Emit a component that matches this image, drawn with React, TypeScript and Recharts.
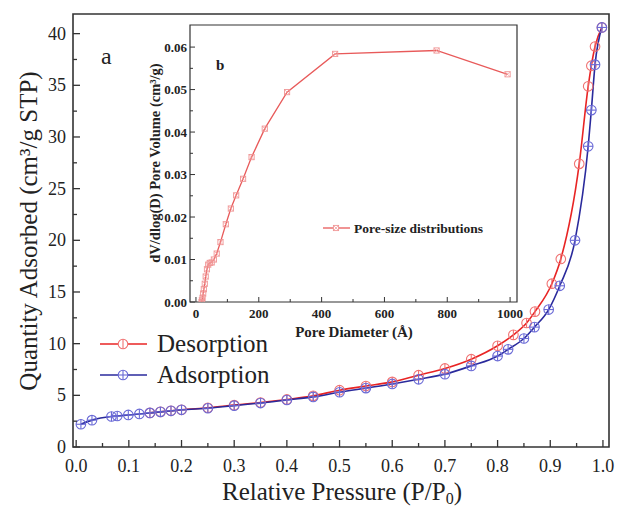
import React from 'react';
import { LineChart, Line, XAxis, YAxis, ReferenceArea } from 'recharts';

// Adsorption branch (blue)
const adsP = [0.009, 0.030, 0.067, 0.078, 0.099, 0.120, 0.140, 0.160, 0.180, 0.200, 0.250, 0.300, 0.350, 0.400, 0.450, 0.500, 0.550, 0.600, 0.650, 0.700, 0.750, 0.800, 0.820, 0.850, 0.870, 0.897, 0.918, 0.947, 0.972, 0.978, 0.985, 0.998];
const adsQ = [2.2, 2.6, 2.95, 3.0, 3.1, 3.2, 3.3, 3.4, 3.5, 3.6, 3.75, 4.0, 4.25, 4.55, 4.85, 5.3, 5.7, 6.1, 6.55, 7.05, 7.85, 8.8, 9.45, 10.5, 11.6, 13.3, 15.6, 20.0, 29.1, 32.6, 37.0, 40.6];
// Desorption branch (red)
const desP = [0.140, 0.160, 0.180, 0.200, 0.250, 0.300, 0.350, 0.400, 0.450, 0.500, 0.550, 0.600, 0.650, 0.700, 0.750, 0.800, 0.830, 0.855, 0.871, 0.903, 0.920, 0.955, 0.972, 0.978, 0.985, 0.998];
const desQ = [3.3, 3.4, 3.5, 3.6, 3.8, 4.05, 4.3, 4.6, 4.95, 5.5, 5.9, 6.3, 6.95, 7.6, 8.5, 9.8, 10.85, 12.0, 13.1, 15.8, 18.2, 27.4, 34.9, 36.9, 38.75, 40.6];
// Inset: pore-size distribution
const poreD = [18, 19, 21, 23, 25, 28, 31, 35, 39, 44, 50, 57, 66, 78, 95, 111, 128, 150, 177, 219, 290, 443, 766, 992];
const poreV = [0.0, 0.0004, 0.001, 0.002, 0.003, 0.0043, 0.006, 0.0077, 0.0088, 0.0092, 0.0093, 0.01, 0.0114, 0.0141, 0.0183, 0.022, 0.0251, 0.029, 0.0341, 0.0408, 0.0494, 0.0584, 0.0592, 0.0536];

const mainXTicks = [0, 0.05, 0.1, 0.15, 0.2, 0.25, 0.3, 0.35, 0.4, 0.45, 0.5, 0.55, 0.6, 0.65, 0.7, 0.75, 0.8, 0.85, 0.9, 0.95, 1.0];
const mainYTicks = [0, 2.5, 5, 7.5, 10, 12.5, 15, 17.5, 20, 22.5, 25, 27.5, 30, 32.5, 35, 37.5, 40];
const insetXTicks = [0, 100, 200, 300, 400, 500, 600, 700, 800, 900, 1000];
const insetYTicks = [0, 0.005, 0.01, 0.015, 0.02, 0.025, 0.03, 0.035, 0.04, 0.045, 0.05, 0.055, 0.06];

const adsData = adsP.map((p, i) => ({ p, q: adsQ[i] }));
const desData = desP.map((p, i) => ({ p, q: desQ[i] }));
const poreData = poreD.map((d, i) => ({ d, v: poreV[i] }));

const mainXDomain = [-0.006, 1.0115];
const mainYDomain = [0, 41.9];
const insetXDomain = [-19, 1022];
const insetYDomain = [0, 0.0652];

const SERIF = '"Liberation Serif", "Times New Roman", serif';
const FRAME = '#333';
const RED = '#e82424';
const RED_M = '#f07272';
const BLUE = '#2a2a9c';
const BLUE_M = '#6a6ad6';
const PINK = '#e85a5a';
const PINK_M = '#f09696';

const MainXTick = (props: any) => {
  const { x, y, payload } = props;
  const major = Math.round(payload.value * 100) % 10 === 0;
  return (
    <g>
      <line x1={x} x2={x} y1={y} y2={y - (major ? 7 : 4)} stroke={FRAME} strokeWidth={1.3} />
      {major && (
        <text x={x} y={y + 25} textAnchor="middle" fontSize={18} fontFamily={SERIF} fill="#222">
          {payload.value.toFixed(1)}
        </text>
      )}
    </g>
  );
};

const MainYTick = (props: any) => {
  const { x, y, payload } = props;
  const major = Math.round(payload.value * 10) % 50 === 0;
  return (
    <g>
      <line x1={x} x2={x + (major ? 7 : 4)} y1={y} y2={y} stroke={FRAME} strokeWidth={1.3} />
      {major && (
        <text x={x - 7} y={y + 6} textAnchor="end" fontSize={18} fontFamily={SERIF} fill="#222">
          {payload.value}
        </text>
      )}
    </g>
  );
};

const InsetXTick = (props: any) => {
  const { x, y, payload } = props;
  const major = payload.value % 200 === 0;
  return (
    <g>
      <line x1={x} x2={x} y1={y} y2={y - (major ? 5 : 3)} stroke={FRAME} strokeWidth={1} />
      {major && (
        <text x={x} y={y + 16} textAnchor="middle" fontSize={13} fontWeight="bold" fontFamily={SERIF} fill="#222">
          {payload.value}
        </text>
      )}
    </g>
  );
};

const InsetYTick = (props: any) => {
  const { x, y, payload } = props;
  const major = Math.round(payload.value * 1000) % 10 === 0;
  return (
    <g>
      <line x1={x} x2={x + (major ? 5 : 3)} y1={y} y2={y} stroke={FRAME} strokeWidth={1} />
      {major && (
        <text x={x - 3} y={y + 4.5} textAnchor="end" fontSize={13} fontWeight="bold" fontFamily={SERIF} fill="#222">
          {payload.value.toFixed(2)}
        </text>
      )}
    </g>
  );
};

const DesDot = (props: any) => {
  const { cx, cy, index } = props;
  if (cx == null || cy == null) return <g key={`d${index}`} />;
  return (
    <g key={`d${index}`}>
      <circle cx={cx} cy={cy} r={4.8} fill="none" stroke={RED_M} strokeWidth={1.1} />
      <line x1={cx} x2={cx} y1={cy - 4.8} y2={cy + 4.8} stroke={RED_M} strokeWidth={1.1} />
    </g>
  );
};

const AdsDot = (props: any) => {
  const { cx, cy, index } = props;
  if (cx == null || cy == null) return <g key={`a${index}`} />;
  return (
    <g key={`a${index}`}>
      <circle cx={cx} cy={cy} r={4.8} fill="none" stroke={BLUE_M} strokeWidth={1.1} />
      <line x1={cx} x2={cx} y1={cy - 4.8} y2={cy + 4.8} stroke={BLUE_M} strokeWidth={1.1} />
      <line x1={cx - 4.8} x2={cx + 4.8} y1={cy} y2={cy} stroke={BLUE_M} strokeWidth={1.1} />
    </g>
  );
};

const PoreDot = (props: any) => {
  const { cx, cy, index } = props;
  if (cx == null || cy == null) return <g key={`p${index}`} />;
  const s = 2.6;
  return (
    <g key={`p${index}`}>
      <rect x={cx - s} y={cy - s} width={2 * s} height={2 * s} fill="none" stroke={PINK_M} strokeWidth={0.9} />
      <line x1={cx - s} x2={cx + s} y1={cy - s} y2={cy + s} stroke={PINK_M} strokeWidth={0.7} />
      <line x1={cx - s} x2={cx + s} y1={cy + s} y2={cy - s} stroke={PINK_M} strokeWidth={0.7} />
    </g>
  );
};

export default function App() {
  return (
    <div style={{ position: 'absolute', left: 0, top: 0, width: 617, height: 510, background: '#fff', overflow: 'hidden' }}>
      <div style={{ position: 'absolute', left: 0, top: 0 }}>
        <LineChart width={617} height={510} margin={{ top: 14, right: 8, bottom: 0, left: 0 }}>
          <XAxis
            dataKey="p"
            type="number"
            domain={mainXDomain}
            allowDataOverflow
            ticks={mainXTicks}
            interval={0}
            tickSize={0}
            tickMargin={0}
            tickLine={false}
            axisLine={false}
            tick={<MainXTick />}
            height={63}
          />
          <YAxis
            dataKey="q"
            type="number"
            domain={mainYDomain}
            allowDataOverflow
            ticks={mainYTicks}
            interval={0}
            tickSize={0}
            tickMargin={0}
            tickLine={false}
            axisLine={false}
            tick={<MainYTick />}
            width={73}
          />
          <ReferenceArea
            x1={mainXDomain[0]}
            x2={mainXDomain[1]}
            y1={mainYDomain[0]}
            y2={mainYDomain[1]}
            fill="none"
            stroke={FRAME}
            strokeWidth={1.6}
          />
          <Line data={desData} dataKey="q" type="monotone" stroke={RED} strokeWidth={1.6} dot={DesDot} isAnimationActive={false} />
          <Line data={adsData} dataKey="q" type="monotone" stroke={BLUE} strokeWidth={1.6} dot={AdsDot} isAnimationActive={false} />
        </LineChart>
      </div>

      <div style={{ position: 'absolute', left: 140, top: 20 }}>
        <LineChart width={390} height={325} margin={{ top: 5, right: 13, bottom: 0, left: 0 }}>
          <XAxis
            dataKey="d"
            type="number"
            domain={insetXDomain}
            allowDataOverflow
            ticks={insetXTicks}
            interval={0}
            tickSize={0}
            tickMargin={0}
            tickLine={false}
            axisLine={false}
            tick={<InsetXTick />}
            height={43}
          />
          <YAxis
            dataKey="v"
            type="number"
            domain={insetYDomain}
            allowDataOverflow
            ticks={insetYTicks}
            interval={0}
            tickSize={0}
            tickMargin={0}
            tickLine={false}
            axisLine={false}
            tick={<InsetYTick />}
            width={50}
          />
          <ReferenceArea
            x1={insetXDomain[0]}
            x2={insetXDomain[1]}
            y1={insetYDomain[0]}
            y2={insetYDomain[1]}
            fill="#fff"
            fillOpacity={1}
            stroke={FRAME}
            strokeWidth={1.2}
          />
          <Line data={poreData} dataKey="v" type="linear" stroke={PINK} strokeWidth={1.3} dot={PoreDot} isAnimationActive={false} />
        </LineChart>
      </div>

      <svg width={617} height={510} style={{ position: 'absolute', left: 0, top: 0, pointerEvents: 'none' }}>
        <text x={101} y={64} fontSize={24} fontFamily={SERIF} fill="#222">a</text>
        {/* main legend */}
        <line x1={100} x2={147} y1={344} y2={344} stroke={RED} strokeWidth={1.6} />
        <circle cx={123} cy={344} r={4.8} fill="#fff" stroke={RED_M} strokeWidth={1.1} />
        <line x1={123} x2={123} y1={339.2} y2={348.8} stroke={RED_M} strokeWidth={1.1} />
        <text x={157} y={352} fontSize={25} fontFamily={SERIF} fill="#222">Desorption</text>
        <line x1={100} x2={147} y1={375} y2={375} stroke={BLUE} strokeWidth={1.6} />
        <circle cx={123} cy={375} r={4.8} fill="#fff" stroke={BLUE_M} strokeWidth={1.1} />
        <line x1={123} x2={123} y1={370.2} y2={379.8} stroke={BLUE_M} strokeWidth={1.1} />
        <line x1={118.2} x2={127.8} y1={375} y2={375} stroke={BLUE_M} strokeWidth={1.1} />
        <text x={157} y={383} fontSize={25} fontFamily={SERIF} fill="#222">Adsorption</text>
        {/* axis titles */}
        <text x={342} y={500} textAnchor="middle" fontSize={25} fontFamily={SERIF} fill="#222">
          Relative Pressure (P/P<tspan fontSize={16} dy={4}>0</tspan><tspan dy={-4}>)</tspan>
        </text>
        <text x={37} y={231} transform="rotate(-90 37 231)" textAnchor="middle" fontSize={25} fontFamily={SERIF} fill="#222">
          Quantity Adsorbed (cm³/g STP)
        </text>
        {/* inset texts */}
        <text x={216} y={70} fontSize={15} fontWeight="bold" fontFamily={SERIF} fill="#222">b</text>
        <text x={354} y={337} textAnchor="middle" fontSize={15} fontWeight="bold" fontFamily={SERIF} fill="#222">Pore Diameter (Å)</text>
        <text x={160} y={163} transform="rotate(-90 160 163)" textAnchor="middle" fontSize={14.5} fontWeight="bold" fontFamily={SERIF} fill="#222">
          dV/dlog(D) Pore Volume (cm³/g)
        </text>
        <line x1={323} x2={350} y1={228} y2={228} stroke={PINK} strokeWidth={1.3} />
        <rect x={333.4} y={225.4} width={5.2} height={5.2} fill="#fff" stroke={PINK_M} strokeWidth={0.9} />
        <line x1={333.4} x2={338.6} y1={225.4} y2={230.6} stroke={PINK_M} strokeWidth={0.7} />
        <line x1={333.4} x2={338.6} y1={230.6} y2={225.4} stroke={PINK_M} strokeWidth={0.7} />
        <text x={354} y={232.5} fontSize={13.5} fontWeight="bold" fontFamily={SERIF} fill="#222">Pore-size distributions</text>
      </svg>
    </div>
  );
}
